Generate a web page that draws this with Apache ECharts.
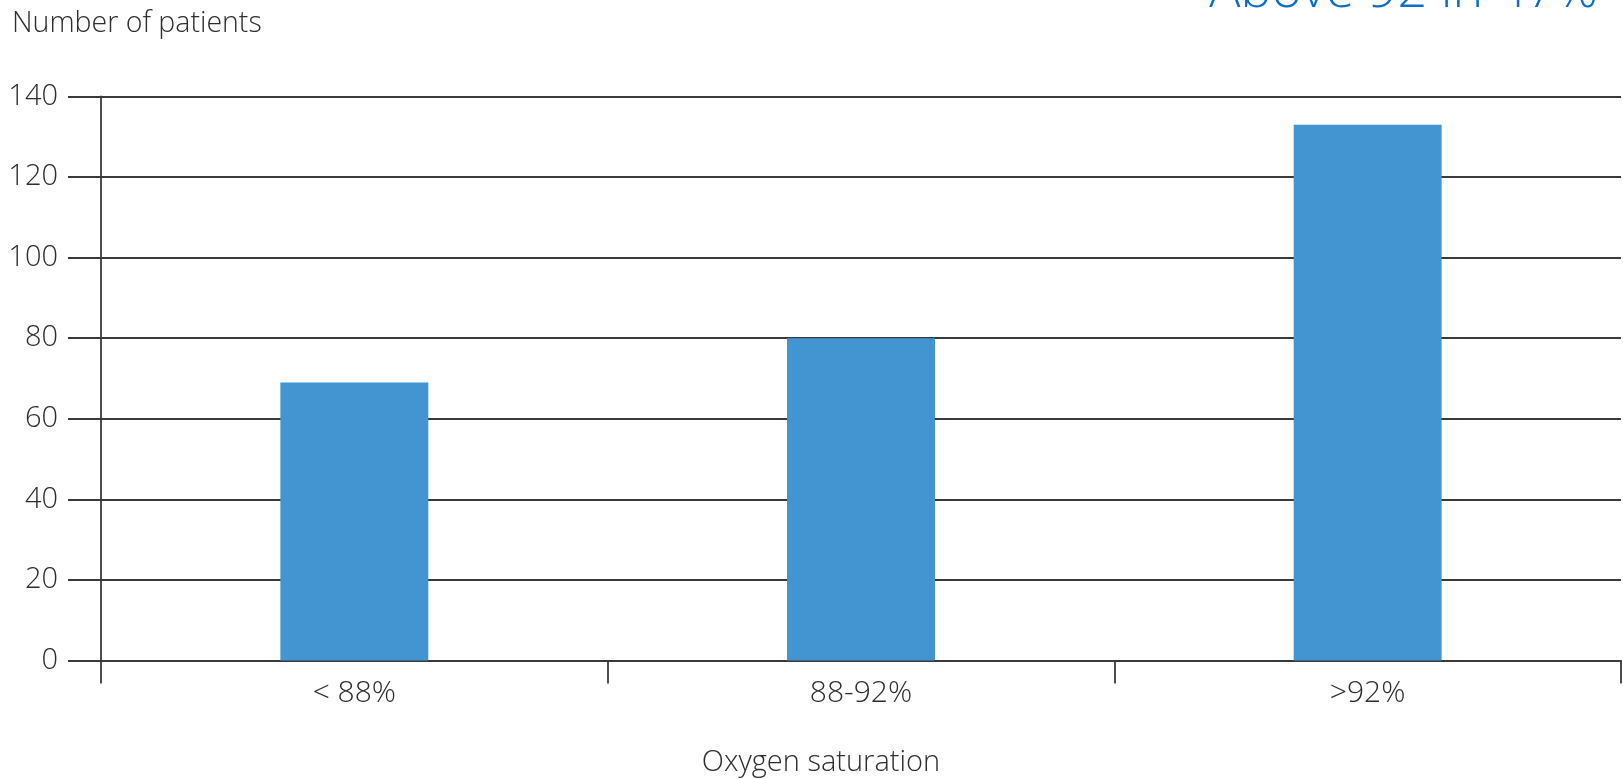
<!DOCTYPE html>
<html>
<head>
<meta charset="utf-8">
<script src="https://cdn.jsdelivr.net/npm/echarts@6/dist/echarts.min.js"></script>
<style>
  html, body { margin: 0; padding: 0; background: #fff; }
  #chart { width: 1623px; height: 779px; }
</style>
</head>
<body>
<div id="chart"></div>
<script>
// Patients grouped by oxygen saturation band
const categories = ['< 88%', '88-92%', '>92%'];
const patientCounts = [69, 80, 133];
const yTicks = { min: 0, max: 140, interval: 20 };

const yAxisTitle = 'Number of patients';
const xAxisTitle = 'Oxygen saturation';
const headline = 'Above 92 in 47%';

const FONT = '"Open Sans", "Noto Sans", "DejaVu Sans", sans-serif';
const INK = '#2e2e2e';
const LINE = '#3a3a3a';
const BAR = '#4395d1';
const ACCENT = '#0b6fc8';

const chart = echarts.init(document.getElementById('chart'), null, { renderer: 'canvas' });

chart.setOption({
  backgroundColor: '#ffffff',
  animation: false,
  grid: { left: 101, right: 2, top: 96.5, bottom: 118.5, containLabel: false },
  graphic: [
    {
      type: 'text',
      left: 12, top: 9,
      style: { text: yAxisTitle, font: '300 28.5px ' + FONT, fill: INK }
    },
    {
      type: 'text',
      x: 821, y: 763,
      style: {
        text: xAxisTitle, font: '300 29px ' + FONT, fill: INK,
        align: 'center', verticalAlign: 'middle'
      }
    },
    {
      type: 'text',
      right: 25, top: -34,
      style: { text: headline, font: '300 52px ' + FONT, fill: ACCENT }
    }
  ],
  xAxis: {
    type: 'category',
    data: categories,
    boundaryGap: true,
    axisLine: { show: true, lineStyle: { color: LINE, width: 1.8 } },
    axisTick: { show: true, length: 23, lineStyle: { color: LINE, width: 1.8 } },
    axisLabel: {
      margin: 18,
      fontFamily: FONT, fontWeight: 300, fontSize: 30, color: INK
    },
    splitLine: { show: false }
  },
  yAxis: {
    type: 'value',
    min: yTicks.min, max: yTicks.max, interval: yTicks.interval,
    axisLine: { show: true, lineStyle: { color: LINE, width: 1.8 } },
    axisTick: { show: true, length: 33, lineStyle: { color: LINE, width: 1.8 } },
    axisLabel: {
      margin: 43,
      fontFamily: FONT, fontWeight: 300, fontSize: 29, color: INK
    },
    splitLine: { show: true, lineStyle: { color: LINE, width: 1.8 } }
  },
  series: [
    {
      type: 'bar',
      data: patientCounts,
      barWidth: '29.2%',
      itemStyle: { color: BAR },
      z: 3
    }
  ]
});
</script>
</body>
</html>
